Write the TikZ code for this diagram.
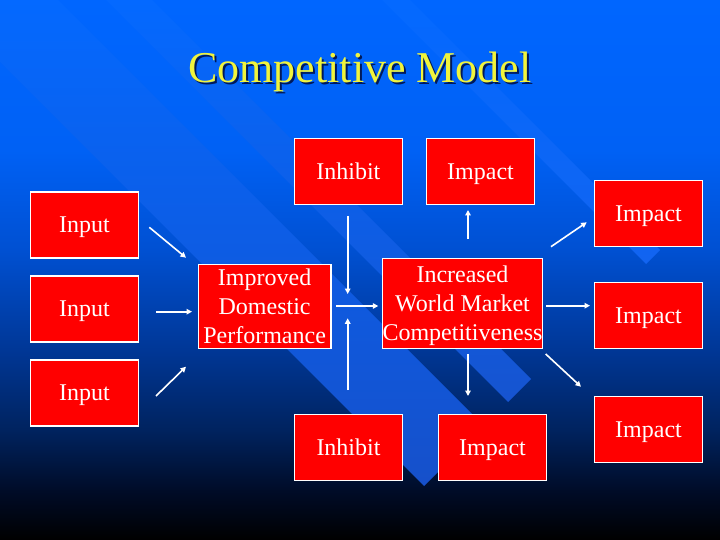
\documentclass[tikz,border=0pt]{standalone}
\usepackage{fontspec}
\setmainfont{Liberation Serif}
\usetikzlibrary{arrows.meta,calc}
\definecolor{boxred}{RGB}{255,0,0}
\definecolor{titleyel}{RGB}{240,244,60}
\definecolor{shadowc}{RGB}{0,25,90}
\definecolor{bgA}{RGB}{0,102,255}
\definecolor{bgB}{RGB}{0,97,245}
\definecolor{bgC}{RGB}{0,80,210}
\definecolor{bgD}{RGB}{0,55,150}
\definecolor{bgE}{RGB}{0,35,95}
\definecolor{bgF}{RGB}{0,12,40}
\definecolor{bgG}{RGB}{0,0,0}
\definecolor{stripeTop}{RGB}{4,105,255}
\definecolor{stripeBotA}{RGB}{22,80,202}
\definecolor{stripeBotB}{RGB}{22,84,208}
\definecolor{stripeBotC}{RGB}{18,100,240}
\pgfdeclareverticalshading{bgshade}{100bp}{color(0bp)=(bgG); color(25bp)=(bgG); color(29.6bp)=(bgF); color(35.2bp)=(bgE); color(42.6bp)=(bgD); color(51.85bp)=(bgC); color(61.1bp)=(bgB); color(75bp)=(bgA); color(100bp)=(bgA)}
\tikzset{
  box/.style={draw=white, line width=1.1pt, fill=boxred, text=white,
    minimum width=108.4pt, minimum height=66pt, inner sep=0pt,
    font=\fontsize{24}{28.8}\selectfont, align=center, text depth=0pt},
  arr/.style={draw=white, line width=1.6pt, -{Triangle[length=5.5pt,width=5.5pt]}},
  titlefont/.style={font=\fontsize{44}{50}\selectfont, anchor=base, inner sep=0pt}
}
\begin{document}
\begin{tikzpicture}[x=1pt, y=-1pt]
\useasboundingbox (0,0) rectangle (720,540);
% background
\shade[shading=bgshade] (0,0) rectangle (720,540);
\begin{scope}
\clip (0,0) rectangle (720,540);
\shade[top color=stripeTop, bottom color=stripeBotA] (-62,0) -- (424,486) -- (484,426) -- (58,0) -- cycle;
\shade[top color=stripeTop, bottom color=stripeBotB] (106,0) -- (508,402) -- (531,379) -- (152,0) -- cycle;
\shade[top color=stripeTop, bottom color=stripeBotC] (382,0) -- (646,264) -- (660,250) -- (410,0) -- cycle;
\end{scope}
% title
\node[titlefont, text=shadowc] (titleshadow) at (362,84.6) {Competitive Model};
\node[titlefont, text=titleyel] (title) at (360,82.6) {Competitive Model};
% boxes
\node[box] (in1) at (84.5,225) {Input};
\node[box] (in2) at (84.5,309) {Input};
\node[box] (in3) at (84.5,393) {Input};
\node[box, minimum width=132.7pt, minimum height=84pt] (idp) at (264.6,306.4) {Improved\\Domestic\\Performance};
\node[box] (inhT) at (348.4,171.3) {Inhibit};
\node[box] (impT) at (480.5,171.2) {Impact};
\node[box, minimum width=156.4pt, minimum height=90pt] (iwmc) at (462.5,303.4) {Increased\\World Market\\Competitiveness};
\node[box] (impR1) at (648.5,213.5) {Impact};
\node[box] (impR2) at (648.5,315.6) {Impact};
\node[box] (impR3) at (648.5,429.3) {Impact};
\node[box] (inhB) at (348.5,447.3) {Inhibit};
\node[box] (impB) at (492.5,447.3) {Impact};
% connector end points
\coordinate (a1s) at (149.3,227.3); \coordinate (a1e) at (186,257.7);
\coordinate (a2s) at (156,311.7);   \coordinate (a2e) at (192,311.7);
\coordinate (a3s) at (156,396);     \coordinate (a3e) at (186,366.7);
\coordinate (a4s) at (347.7,216);   \coordinate (a4e) at (347.7,294);
\coordinate (a5s) at (347.7,390);   \coordinate (a5e) at (347.7,318.3);
\coordinate (a6s) at (336,306);     \coordinate (a6e) at (378.3,306);
\coordinate (a7s) at (468,239);     \coordinate (a7e) at (468,210);
\coordinate (a8s) at (551,246.7);   \coordinate (a8e) at (586.7,222.3);
\coordinate (a9s) at (546,305.7);   \coordinate (a9e) at (590,305.7);
\coordinate (a10s) at (468,354);    \coordinate (a10e) at (468,396);
\coordinate (a11s) at (545.7,354);  \coordinate (a11e) at (581,386.7);
% connectors
\draw[arr] (a1s) -- (a1e);
\draw[arr] (a2s) -- (a2e);
\draw[arr] (a3s) -- (a3e);
\draw[arr] (a4s) -- (a4e);
\draw[arr] (a5s) -- (a5e);
\draw[arr] (a6s) -- (a6e);
\draw[arr] (a7s) -- (a7e);
\draw[arr] (a8s) -- (a8e);
\draw[arr] (a9s) -- (a9e);
\draw[arr] (a10s) -- (a10e);
\draw[arr] (a11s) -- (a11e);
\end{tikzpicture}
\end{document}
